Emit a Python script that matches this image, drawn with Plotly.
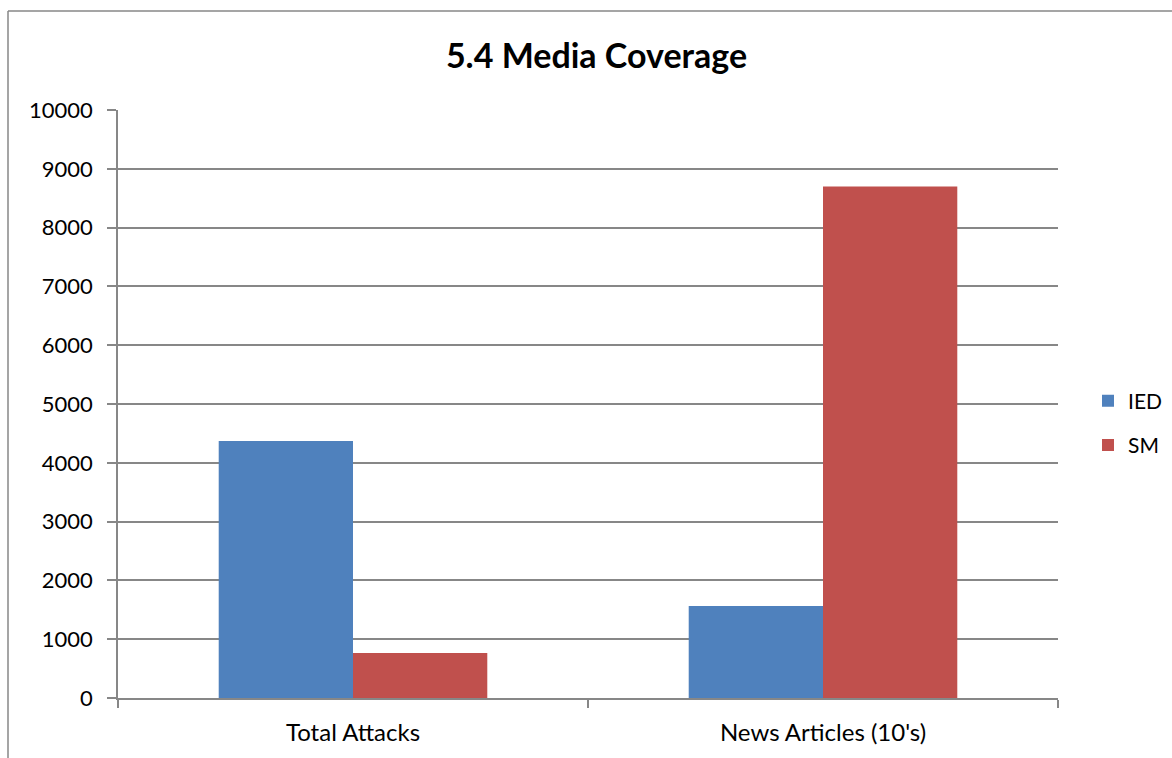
import plotly.graph_objects as go

categories = ["Total Attacks", "News Articles (10's)"]
ied_values = [4370, 1565]
sm_values = [765, 8700]
y_ticks = list(range(0, 10001, 1000))
y_tick_text = [str(v) for v in y_ticks]

GRID = "#878787"
FONT = "Lato, 'Open Sans', sans-serif"

fig = go.Figure()
fig.add_trace(go.Bar(name="IED", x=categories, y=ied_values,
                     marker=dict(color="#4f81bd", line=dict(width=0)),
                     legendgroup="ied"))
fig.add_trace(go.Bar(name="SM", x=categories, y=sm_values,
                     marker=dict(color="#c0504d", line=dict(width=0)),
                     legendgroup="sm"))

L, R, T, B = 118, 1172 - 1058, 110, 758 - 698
W, H = 1172 - L - R, 758 - T - B

def px_x(p):
    return (p - L) / W

def px_y(p):
    return (758 - B - p) / H

fig.update_layout(
    width=1172, height=758,
    margin=dict(l=L, r=R, t=T, b=B, autoexpand=False),
    paper_bgcolor="white", plot_bgcolor="white",
    barmode="group", bargap=1.5 / 3.5, bargroupgap=0,
    font=dict(family=FONT, size=22, color="black"),
    title=dict(text="<b>5.4 Media Coverage</b>", x=596.5 / 1172,
               xanchor="center", y=1 - 56 / 758, yanchor="middle",
               font=dict(family=FONT, size=34, color="black")),
    xaxis=dict(showline=True, linecolor=GRID, linewidth=1.5,
               ticks="outside", tickson="boundaries", ticklen=8,
               tickcolor=GRID, tickwidth=1.5, showgrid=False,
               ticklabelstandoff=12, tickfont=dict(size=24)),
    yaxis=dict(range=[0, 10000], tickvals=y_ticks, ticktext=y_tick_text,
               showline=True, linecolor=GRID, linewidth=1.5,
               ticks="outside", ticklen=9, tickcolor=GRID, tickwidth=1.5,
               showgrid=True, gridcolor=GRID, gridwidth=1.5, zeroline=False,
               ticklabelstandoff=10, tickfont=dict(size=22)),
    legend=dict(x=px_x(1088), y=px_y(423), xanchor="left", yanchor="middle",
                traceorder="grouped", tracegroupgap=14,
                font=dict(size=21), bgcolor="rgba(0,0,0,0)"),
    shapes=[
        dict(type="line", xref="paper", yref="paper",
             x0=px_x(8), x1=px_x(1200), y0=px_y(11), y1=px_y(11),
             line=dict(color=GRID, width=1.5)),
        dict(type="line", xref="paper", yref="paper",
             x0=px_x(8), x1=px_x(8), y0=px_y(11), y1=px_y(800),
             line=dict(color=GRID, width=1.5)),
    ],
)

fig.write_html("out.html")
